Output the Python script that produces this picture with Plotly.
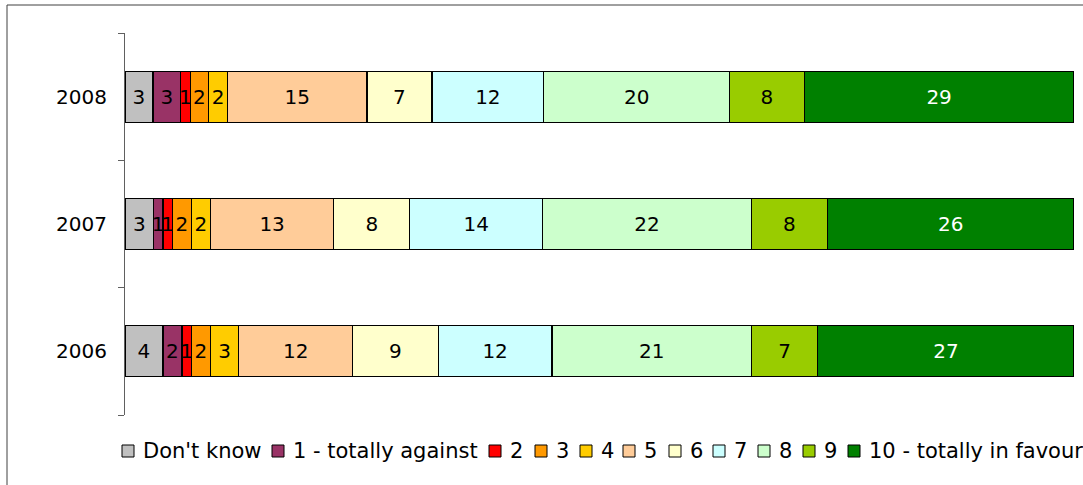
import plotly.graph_objects as go

years = ["2006", "2007", "2008"]
series_names = ["Don't know", "1 - totally against", "2", "3", "4", "5", "6", "7", "8", "9", "10 - totally in favour"]
values = {
    "Don't know":              [4, 3, 3],
    "1 - totally against":     [2, 1, 3],
    "2":                       [1, 1, 1],
    "3":                       [2, 2, 2],
    "4":                       [3, 2, 2],
    "5":                       [12, 13, 15],
    "6":                       [9, 8, 7],
    "7":                       [12, 14, 12],
    "8":                       [21, 22, 20],
    "9":                       [7, 8, 8],
    "10 - totally in favour":  [27, 26, 29],
}
colors = ["#C0C0C0", "#993366", "#FF0000", "#FF9900", "#FFCC00", "#FFCC99",
          "#FFFFCC", "#CCFFFF", "#CCFFCC", "#99CC00", "#008000"]
text_colors = ["black"] * 10 + ["white"]

# layout geometry (pixels)
W, H = 1083, 485
L, R, T, B = 125, 9, 33, 70
PW, PH = W - L - R, H - T - B

def px_x(p):
    return (p - L) / PW

def px_y(p):
    return (H - B - p) / PH

FONT = "DejaVu Sans"

fig = go.Figure()
for name, col, tc in zip(series_names, colors, text_colors):
    vals = values[name]
    fig.add_trace(go.Bar(
        y=years, x=vals, orientation="h", name=name,
        marker=dict(color=col, line=dict(color="black", width=1.2)),
        text=[str(v) for v in vals], textposition="inside",
        insidetextanchor="middle", textangle=0, constraintext="none",
        textfont=dict(family=FONT, size=20, color=tc),
        showlegend=False, hoverinfo="x+y+name",
    ))

fig.update_layout(
    barmode="stack", barnorm="percent", bargap=0.6,
    width=W, height=H,
    margin=dict(l=L, r=R, t=T, b=B, pad=0),
    paper_bgcolor="white", plot_bgcolor="white",
    font=dict(family=FONT, size=20, color="black"),
    xaxis=dict(range=[0, 100], visible=False, showgrid=False, zeroline=False),
    yaxis=dict(type="category", categoryorder="array", categoryarray=years,
               range=[-0.5, 2.5], showline=True, linecolor="#606060", linewidth=1,
               ticks="outside", tickson="boundaries", ticklen=6, tickcolor="#606060",
               showgrid=False, zeroline=False, ticklabelstandoff=13,
               tickfont=dict(family=FONT, size=20, color="black")),
)

# outer frame
fig.add_shape(type="rect", xref="paper", yref="paper",
              x0=px_x(7), x1=px_x(W + 20), y0=px_y(H + 20), y1=px_y(5),
              line=dict(color="#404040", width=1), fillcolor="rgba(0,0,0,0)", layer="below")

# manual legend (single row, tight spacing as in reference)
legend_left_px = [122, 272, 489, 535, 580, 623, 669, 713, 758, 803, 848]
legend_y_px = 451
for name, col, lx in zip(series_names, colors, legend_left_px):
    fig.add_shape(type="rect", xref="paper", yref="paper",
                  x0=px_x(lx), x1=px_x(lx + 12),
                  y0=px_y(legend_y_px + 6), y1=px_y(legend_y_px - 6),
                  line=dict(color="black", width=1), fillcolor=col)
    fig.add_annotation(xref="paper", yref="paper", x=px_x(lx + 19), y=px_y(legend_y_px),
                       xanchor="left", yanchor="middle", text=name, showarrow=False,
                       font=dict(family=FONT, size=21, color="black"))

fig.write_html("out.html", config={"displayModeBar": False},
               post_script="document.body.style.margin='0';document.body.style.overflow='hidden';")
